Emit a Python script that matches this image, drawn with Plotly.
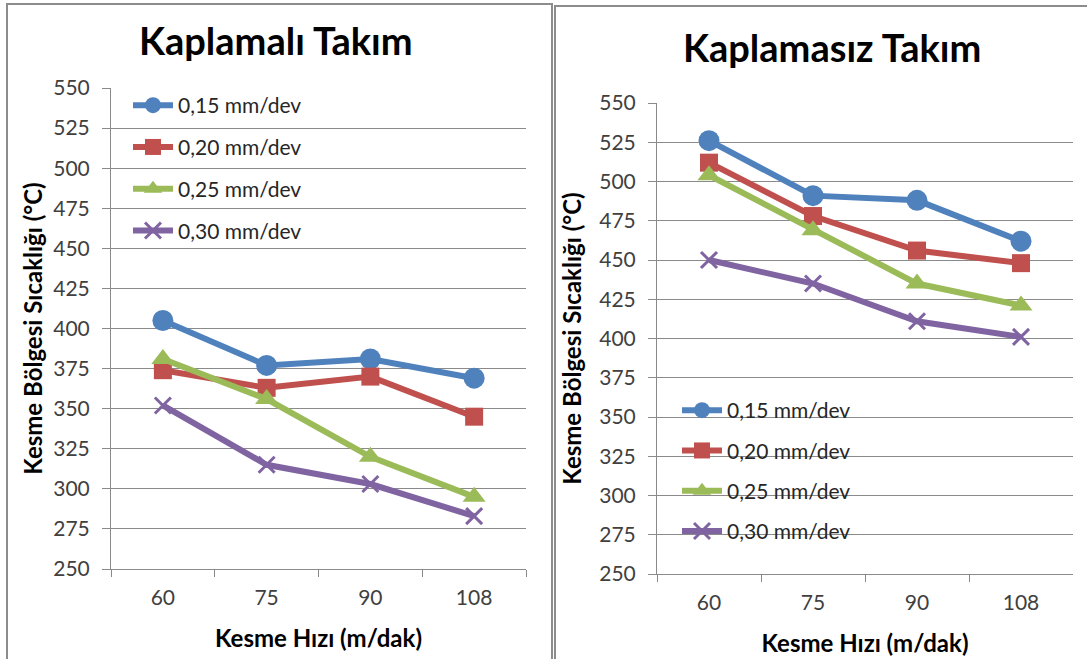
import plotly.graph_objects as go

categories = ["60", "75", "90", "108"]
series_names = ["0,15 mm/dev", "0,20 mm/dev", "0,25 mm/dev", "0,30 mm/dev"]

coated_015 = [405, 377, 381, 369]
coated_020 = [374, 363, 370, 345]
coated_025 = [381, 356, 320, 295]
coated_030 = [352, 315, 303, 283]

uncoated_015 = [526, 491, 488, 462]
uncoated_020 = [512, 478, 456, 448]
uncoated_025 = [504, 469, 435, 421]
uncoated_030 = [450, 435, 411, 401]

y_ticks = list(range(250, 551, 25))

colors = ["#4F81BD", "#C0504D", "#9BBB59", "#8064A2"]
symbols = ["circle", "square", "triangle-up", "x-thin"]
sizes = [21, 18, 20, 16]

FONT = "Lato"
W, H = 1087, 659

fig = go.Figure()

coated = [coated_015, coated_020, coated_025, coated_030]
uncoated = [uncoated_015, uncoated_020, uncoated_025, uncoated_030]

def add(vals, i, xa, ya, leg, grp):
    fig.add_trace(go.Scatter(
        x=categories, y=vals, name=series_names[i], mode="lines+markers",
        xaxis=xa, yaxis=ya, legend=leg, legendgroup=grp,
        line=dict(color=colors[i], width=6),
        marker=dict(symbol=symbols[i], size=sizes[i], color=colors[i],
                    line=dict(color=colors[i], width=3 if i == 3 else 0)),
    ))

for i, vals in enumerate(coated):
    add(vals, i, "x", "y", "legend", "a%d" % i)
for i, vals in enumerate(uncoated):
    add(vals, i, "x2", "y2", "legend2", "b%d" % i)

grid = "#8a8a8a"
tickfont = dict(family=FONT, size=21, color="#404040")
titlefont = dict(family=FONT, size=24, color="#000000", weight="bold")

def xax(domain, anchor):
    return dict(domain=domain, anchor=anchor, type="category",
                categoryorder="array", categoryarray=categories,
                range=[-0.5, 3.5], tickson="boundaries", ticks="outside",
                ticklen=7, tickcolor=grid, showline=True, linecolor=grid,
                linewidth=1, showgrid=False, zeroline=False, tickfont=tickfont,
                ticklabelstandoff=10, automargin=False,
                title=dict(text="Kesme Hızı (m/dak)", font=titlefont, standoff=21))

def yax(domain, anchor, standoff):
    return dict(domain=domain, anchor=anchor, range=[250, 550],
                tickvals=y_ticks, ticks="outside", ticklen=8, tickcolor=grid,
                showline=True, linecolor=grid, linewidth=1, showgrid=True,
                gridcolor=grid, gridwidth=1, zeroline=False, tickfont=tickfont,
                ticklabelstandoff=8, automargin=False,
                title=dict(text="Kesme Bölgesi Sıcaklığı (°C)", font=titlefont,
                           standoff=standoff))

fig.update_layout(
    width=W, height=H, autosize=False,
    margin=dict(l=0, r=0, t=0, b=0, autoexpand=False),
    paper_bgcolor="white", plot_bgcolor="white",
    font=dict(family=FONT),
    xaxis=xax([111 / W, 526 / W], "y"),
    yaxis=yax([1 - 569 / H, 1 - 88 / H], "x", 3),
    xaxis2=xax([657 / W, 1073 / W], "y2"),
    yaxis2=yax([1 - 574 / H, 1 - 103 / H], "x2", 10),
    legend=dict(x=128 / W, y=1 - 85 / H, xanchor="left", yanchor="top",
                bgcolor="rgba(0,0,0,0)", tracegroupgap=11.5, itemwidth=40,
                font=dict(family=FONT, size=21, color="#262626")),
    legend2=dict(x=677 / W, y=1 - 390 / H, xanchor="left", yanchor="top",
                 bgcolor="rgba(0,0,0,0)", tracegroupgap=10, itemwidth=40,
                 font=dict(family=FONT, size=21, color="#262626")),
    showlegend=True,
    annotations=[
        dict(text="Kaplamalı Takım", x=276 / W, y=1 - 40 / H, xref="paper",
             yref="paper", showarrow=False, xanchor="center", yanchor="middle",
             font=dict(family=FONT, size=38, color="#000000", weight="bold")),
        dict(text="Kaplamasız Takım", x=832 / W, y=1 - 47 / H, xref="paper",
             yref="paper", showarrow=False, xanchor="center", yanchor="middle",
             font=dict(family=FONT, size=38, color="#000000", weight="bold")),
    ],
    shapes=[
        dict(type="rect", xref="paper", yref="paper", x0=7 / W, x1=552 / W,
             y0=-0.02, y1=1 - 4 / H, line=dict(color="#8c8c8c", width=2),
             layer="below"),
        dict(type="rect", xref="paper", yref="paper", x0=555 / W, x1=1.02,
             y0=-0.02, y1=1 - 6 / H, line=dict(color="#8c8c8c", width=2),
             layer="below"),
    ],
)

fig.write_html("out.html",
               config={"displayModeBar": False},
               post_script="document.body.style.margin='0';document.body.style.overflow='hidden';")
